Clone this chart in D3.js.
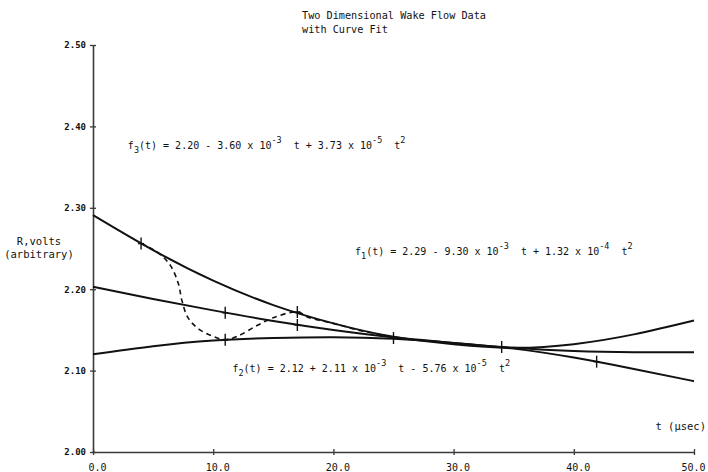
<!DOCTYPE html>
<html>
<head>
<meta charset="utf-8">
<script src="https://cdn.jsdelivr.net/npm/d3@7"></script>
<style>
body { margin: 0; background: #fff; }
svg text { font-family: "DejaVu Sans Mono", "Liberation Mono", monospace; fill: #111; white-space: pre; }
</style>
</head>
<body>
<svg id="chart" width="708" height="472"></svg>
<script>
// fitted curves, sampled off the plot every 5 usec
const T_SAMPLES = [0, 5, 10, 15, 20, 25, 30, 35, 40, 45, 50];
const F1_VALUES = [2.291, 2.248, 2.2105, 2.1805, 2.158, 2.1415, 2.1325, 2.128, 2.1325, 2.1445, 2.1615];
const F2_VALUES = [2.120, 2.130, 2.137, 2.140, 2.141, 2.139, 2.134, 2.127, 2.116, 2.102, 2.087];
const F3_VALUES = [2.203, 2.188, 2.174, 2.161, 2.150, 2.141, 2.134, 2.128, 2.124, 2.1225, 2.1225];

// measured points ("+" marks)
const MARK_T = [4.0, 11.0, 11.0, 17.0, 17.0, 25.0, 34.0, 41.9];
const MARK_V = [2.256, 2.171, 2.138, 2.172, 2.156, 2.140, 2.129, 2.111];

// dashed curve through the raw data
const DASH_T = [4.0, 5.3, 6.4, 7.1, 7.4, 7.9, 8.8, 10.0, 11.0, 12.0, 13.6, 15.0, 17.0, 18.0, 20.0, 22.0, 23.9, 25.0];
const DASH_V = [2.256, 2.246, 2.230, 2.207, 2.186, 2.165, 2.151, 2.142, 2.138, 2.142, 2.155, 2.165, 2.172, 2.165, 2.158, 2.150, 2.144, 2.140];

// axes
const X_TICKS = [0, 10, 20, 30, 40, 50];
const Y_TICKS = [2.0, 2.1, 2.2, 2.3, 2.4, 2.5];

// texts
const TITLE_LINES = ['Two Dimensional Wake Flow Data', 'with Curve Fit'];
const Y_LABEL_LINES = ['R,volts', '(arbitrary)'];
const X_LABEL = 't (\u03bcsec)';

// equation labels: [text, kind] where kind is '', 'sub' or 'sup'
const F1_LABEL = [['f', ''], ['1', 'sub'], ['(t) = 2.29 - 9.30 x 10', ''], ['-3', 'sup'], ['  t + 1.32 x 10', ''], ['-4', 'sup'], ['  t', ''], ['2', 'sup']];
const F2_LABEL = [['f', ''], ['2', 'sub'], ['(t) = 2.12 + 2.11 x 10', ''], ['-3', 'sup'], ['  t - 5.76 x 10', ''], ['-5', 'sup'], ['  t', ''], ['2', 'sup']];
const F3_LABEL = [['f', ''], ['3', 'sub'], ['(t) = 2.20 - 3.60 x 10', ''], ['-3', 'sup'], ['  t + 3.73 x 10', ''], ['-5', 'sup'], ['  t', ''], ['2', 'sup']];

// label anchors in data units [t, value]
const F1_LABEL_AT = [21.8, 2.242];
const F2_LABEL_AT = [11.6, 2.098];
const F3_LABEL_AT = [2.9, 2.372];

// configs
const INK = '#111111';
const AXIS_INK = '#3a3a3a';
const CURVE_W = 2;
const MARK_HALF_H = 6;
const MARK_HALF_W = 3;

const svg = d3.select('#chart');

const x = d3.scaleLinear().domain([0, 50]).range([93, 694]);
const y = d3.scaleLinear().domain([2.0, 2.5]).range([452, 45]);

// title
svg.append('g')
	.selectAll('text')
	.data(TITLE_LINES)
	.enter().append('text')
	.attr('x', 302)
	.attr('y', (d, i) => 19 + i * 13.5)
	.attr('font-size', 10.2)
	.text(d => d);

// y axis
const yAxis = svg.append('g')
	.attr('transform', `translate(${x(0)},0)`)
	.call(d3.axisLeft(y).tickValues(Y_TICKS).tickFormat(d3.format('.2f')).tickSize(3).tickSizeOuter(0).tickPadding(4));
yAxis.select('.domain').attr('stroke', AXIS_INK).attr('stroke-width', 1.6);
yAxis.selectAll('.tick line').attr('x1', 3).attr('stroke', AXIS_INK).attr('stroke-width', 1.3);
yAxis.selectAll('.tick text')
	.attr('font-family', '"DejaVu Sans Mono", monospace')
	.attr('font-size', 9)
	.attr('font-weight', 'bold')
	.attr('fill', INK);

// x axis
const xAxis = svg.append('g')
	.attr('transform', `translate(0,${y(2.0)})`)
	.call(d3.axisBottom(x).tickValues(X_TICKS).tickFormat(d3.format('.1f')).tickSize(3).tickSizeOuter(0));
xAxis.select('.domain').attr('stroke', AXIS_INK).attr('stroke-width', 1.6);
xAxis.selectAll('.tick line').attr('y1', -3).attr('stroke', AXIS_INK).attr('stroke-width', 1.3);
xAxis.selectAll('.tick text')
	.attr('font-family', '"DejaVu Sans Mono", monospace')
	.attr('font-size', 10)
	.attr('fill', INK)
	.attr('y', 18.5)
	.attr('dy', 0)
	.attr('dx', (d, i) => i === X_TICKS.length - 1 ? -1 : 4);

// axis titles
svg.append('g')
	.selectAll('text')
	.data(Y_LABEL_LINES)
	.enter().append('text')
	.attr('x', 39)
	.attr('y', (d, i) => 245 + i * 13)
	.attr('text-anchor', 'middle')
	.attr('font-size', 10.5)
	.text(d => d);

svg.append('text')
	.attr('x', 706)
	.attr('y', 430)
	.attr('text-anchor', 'end')
	.attr('font-size', 10.5)
	.text(X_LABEL);

// fitted curves
const curveLine = d3.line()
	.x(d => x(d[0]))
	.y(d => y(d[1]))
	.curve(d3.curveNatural);

[F1_VALUES, F2_VALUES, F3_VALUES].forEach(vals => {
	svg.append('path')
		.datum(T_SAMPLES.map((t, i) => [t, vals[i]]))
		.attr('d', curveLine)
		.attr('fill', 'none')
		.attr('stroke', INK)
		.attr('stroke-width', CURVE_W)
		.attr('stroke-linejoin', 'round');
});

// dashed data curve
svg.append('path')
	.datum(DASH_T.map((t, i) => [t, DASH_V[i]]))
	.attr('d', curveLine.curve(d3.curveCatmullRom.alpha(0.5)))
	.attr('fill', 'none')
	.attr('stroke', INK)
	.attr('stroke-width', 1.6)
	.attr('stroke-dasharray', '5,4');

// "+" marks on the measured points
const marks = svg.append('g')
	.selectAll('g')
	.data(MARK_T.map((t, i) => [t, MARK_V[i]]))
	.enter().append('g')
	.attr('transform', d => `translate(${x(d[0])},${y(d[1])})`);

marks.append('line')
	.attr('y1', -MARK_HALF_H).attr('y2', MARK_HALF_H)
	.attr('stroke', INK).attr('stroke-width', 1.4);
marks.append('line')
	.attr('x1', -MARK_HALF_W).attr('x2', MARK_HALF_W)
	.attr('stroke', INK).attr('stroke-width', 1.4);

// equation labels with sub/superscripts
function drawEquation(parts, at) {
	const text = svg.append('text')
		.attr('x', x(at[0]))
		.attr('y', y(at[1]))
		.attr('font-size', 10);
	let shift = 0;
	parts.forEach(([str, kind]) => {
		const target = kind === 'sup' ? -6 : kind === 'sub' ? 4 : 0;
		text.append('tspan')
			.attr('dy', target - shift)
			.attr('font-size', kind ? 8.5 : 10)
			.text(str);
		shift = target;
	});
}

drawEquation(F1_LABEL, F1_LABEL_AT);
drawEquation(F2_LABEL, F2_LABEL_AT);
drawEquation(F3_LABEL, F3_LABEL_AT);
</script>
</body>
</html>
